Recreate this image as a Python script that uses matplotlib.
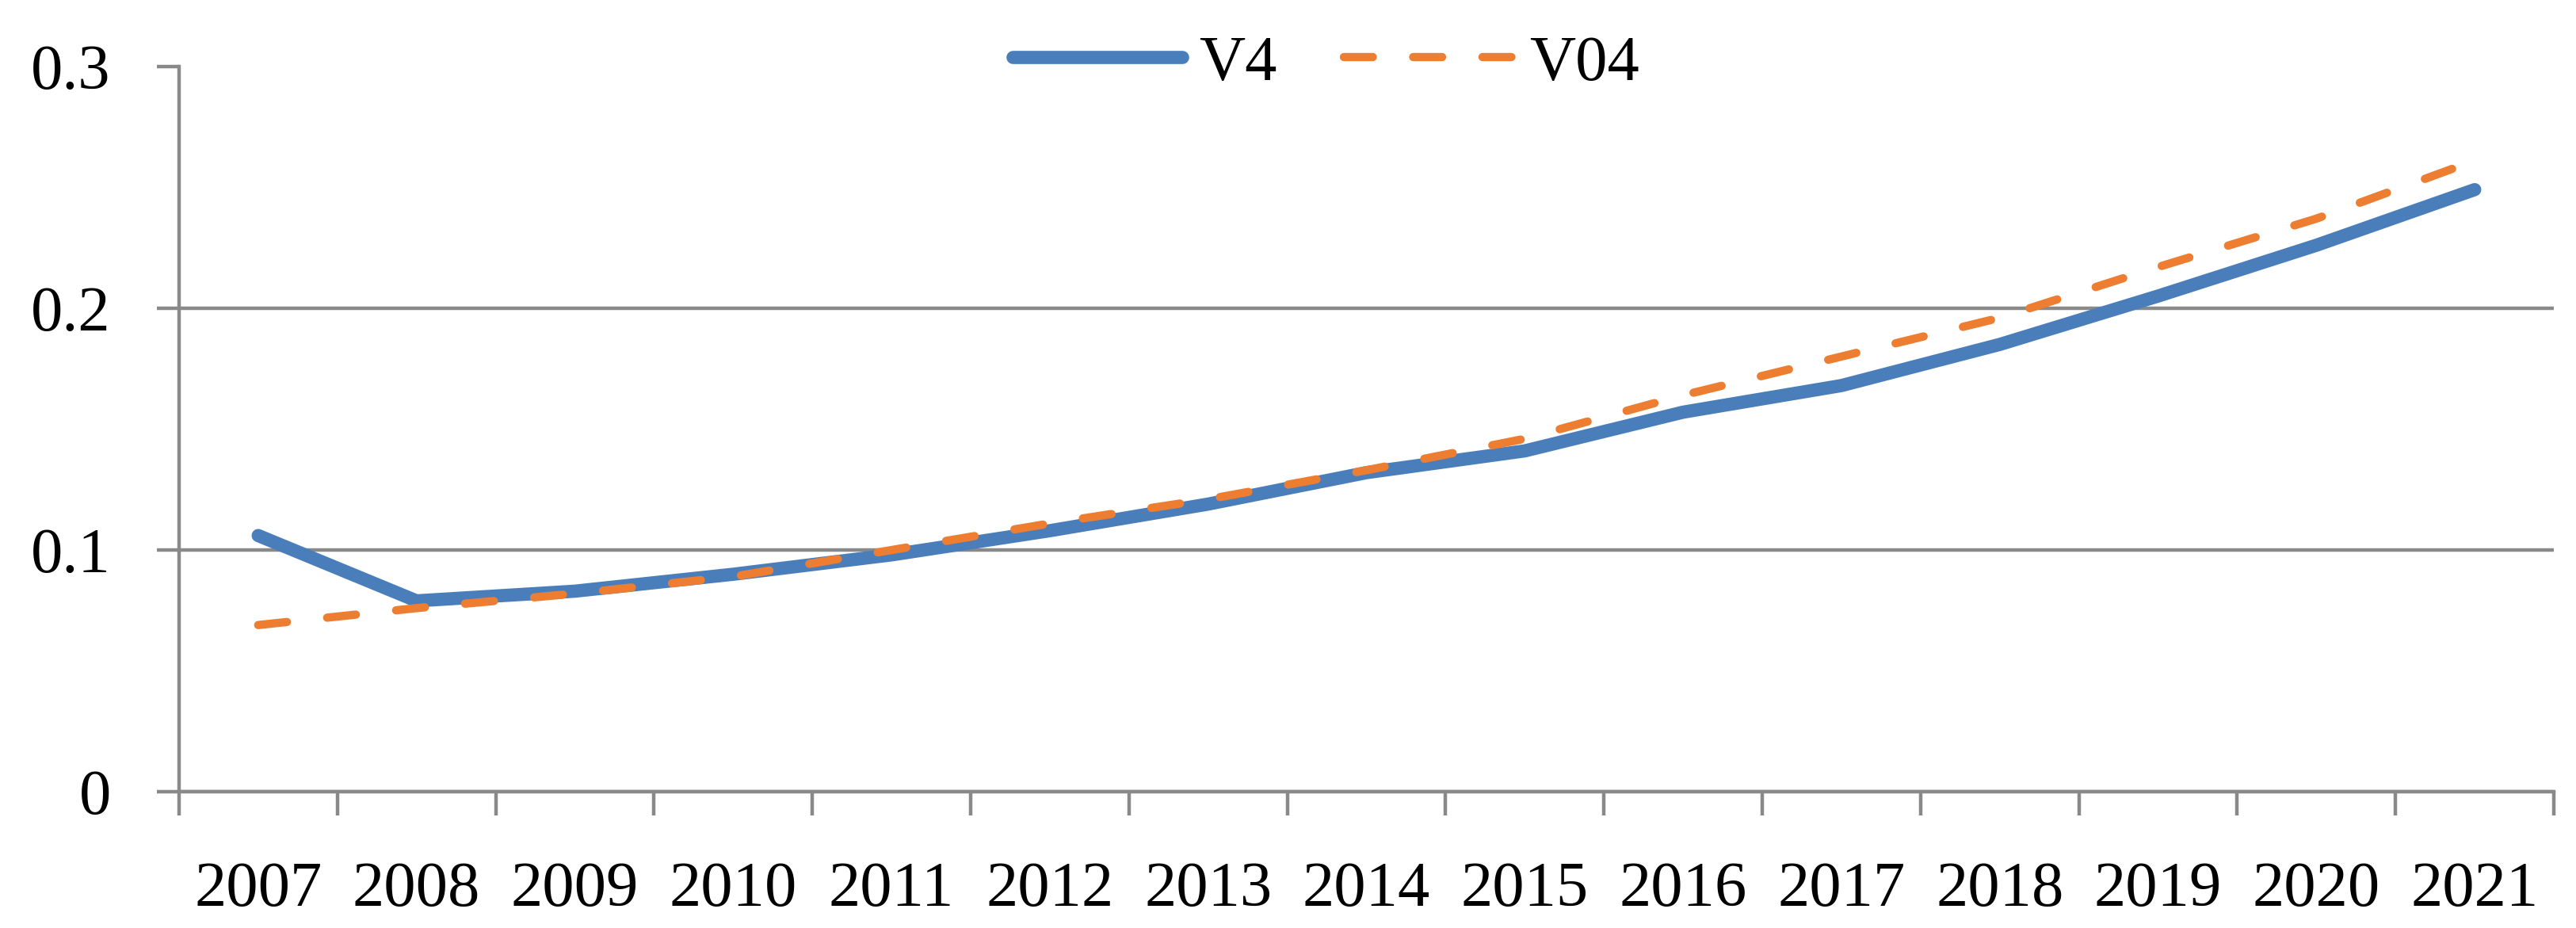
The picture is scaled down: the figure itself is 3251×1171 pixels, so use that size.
import matplotlib
matplotlib.use('Agg')
import matplotlib.pyplot as plt
import numpy as np

# ── Datos ──────────────────────────────────────────────────────────
years = ['2007', '2008', '2009', '2010', '2011', '2012', '2013', '2014',
         '2015', '2016', '2017', '2018', '2019', '2020', '2021']
v4  = [0.106, 0.079, 0.083, 0.090, 0.098, 0.108, 0.119, 0.132,
       0.141, 0.157, 0.168, 0.185, 0.205, 0.226, 0.249]
v04 = [0.069, 0.076, 0.082, 0.089, 0.100, 0.111, 0.121, 0.133,
       0.146, 0.164, 0.180, 0.196, 0.217, 0.237, 0.261]
y_ticks = [0, 0.1, 0.2, 0.3]
y_labels = ['0', '0.1', '0.2', '0.3']

BLUE   = '#4A7EBB'
ORANGE = '#ED7D31'
GRID   = '#898989'
FS = 58

plt.rcParams.update({
    'font.family': ['Liberation Serif', 'DejaVu Serif'],
    'font.size': FS,
})

fig = plt.figure(figsize=(32.51, 11.71), dpi=100, facecolor='white')
ax = fig.add_axes([0.0695, 0.1466, 0.9219, 0.782])

x = np.arange(len(years))
ax.plot(x, v4, color=BLUE, linewidth=12, solid_capstyle='round',
        solid_joinstyle='round', label='V4', zorder=3)
ax.plot(x, v04, color=ORANGE, linewidth=7.5, linestyle=(0, (3.5, 4.9)),
        dash_capstyle='round', label='V04', zorder=4)

ax.set_xlim(-0.5, len(years) - 0.5)
ax.set_ylim(0, 0.3)

# eje x: marcas entre categorias, etiquetas centradas
ax.set_xticks(np.arange(-0.5, len(years)), labels=[''] * (len(years) + 1))
ax.set_xticks(x, labels=years, minor=True)
ax.tick_params(axis='x', which='major', direction='out', length=21.5,
               width=3.2, color=GRID)
ax.tick_params(axis='x', which='minor', length=0, pad=63)

ax.set_yticks(y_ticks, labels=y_labels)
ax.tick_params(axis='y', direction='out', length=20, width=3.2,
               color=GRID, pad=42)

ax.yaxis.grid(True, color=GRID, linewidth=3.2)
ax.get_ygridlines()[-1].set_visible(False)
ax.set_axisbelow(True)

for s in ['top', 'right']:
    ax.spines[s].set_visible(False)
for s in ['left', 'bottom']:
    ax.spines[s].set_color(GRID)
    ax.spines[s].set_linewidth(3.2)

ax.legend(loc='center', bbox_to_anchor=(0.483, 1.003), ncol=2,
          frameon=False, handlelength=2.65, handletextpad=0.26,
          columnspacing=1.05, borderaxespad=0, borderpad=0)

fig.savefig('out.png', dpi=100, facecolor='white')
